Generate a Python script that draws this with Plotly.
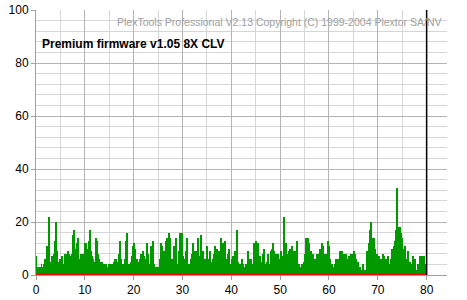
import plotly.graph_objects as go

# C1 error counts, one sample per screen column, 0 .. 80
seg_00_16 = [7,3,3,3,3,4,3,3,4,6, 3,11,6,22,3,5,7,2,8,13, 20,9,4,5,6,6,7,4,4,8,
             6,8,9,8,6,7,8,15,17,8, 10,12,14,6,4,8,4,8,7,12, 12,8,10,13,17,9,7,6,4,5,
             14,13,8,6,5,4,5,4,3,4, 4,3,2,4,3,4,3,4,5,6]
seg_16_33 = [6,4,5,8,13,6,3,4,4,6, 13,16,4,4,3,5,7,11,12,10, 4,6,5,4,6,8,6,9,7,5,
             6,12,8,2,4,11,5,13,4,3, 3,3,3,3,6,12,11,4,9,8, 13,14,8,16,14,5,6,4,11,7,
             14,4,3,9,16,5,16,7,4,6, 9,14,4,4,3,6,8,12,5,9]
seg_33_49 = [9,6,14,3,7,15,5,9,3,6, 4,11,3,6,9,5,3,6,8,11, 4,10,8,9,6,14,5,12,4,13,
             6,2,8,10,4,2,6,7,6,9, 6,17,5,3,4,3,6,4,3,3, 4,3,9,6,5,6,4,4,12,10,
             13,4,12,6,7,4,5,8,10,4, 3,5,8,4,4,9,10,12,9,5]
seg_49_66 = [8,4,8,6,6,9,4,7,22,3, 12,5,8,9,10,4,11,3,9,9, 3,13,3,4,3,3,4,3,5,8,
             14,11,14,12,9,9,5,8,4,6, 4,8,8,3,10,8,12,11,6,8, 8,5,13,11,6,3,4,3,3,4,
             6,3,6,3,9,5,9,8,3,8, 8,5,6,7,5,8,5,8,9,8]
seg_66_80 = [6,2,5,3,3,1,2,4,2,2, 2,9,9,12,17,20,14,11,14,10, 6,8,5,7,3,6,2,8,7,2,
             6,4,7,4,2,6,10,2,11,13, 17,33,18,17,18,16,14,10,8,11, 6,2,9,5,5,2,4,7,2,6,
             2,2,4,2,7,4,7,2,7,4, 4]
c1_values = seg_00_16 + seg_16_33 + seg_33_49 + seg_49_66 + seg_66_80

scan_start = 0
scan_end = 80
c2_x = [scan_start, scan_end]
c2_values = [0, 0]

x_ticks = [0, 10, 20, 30, 40, 50, 60, 70, 80]
y_ticks = [0, 20, 40, 60, 80, 100]

title_text = "Premium firmware v1.05 8X CLV"
copyright_text = "PlexTools Professional V2.13 Copyright (C) 1999-2004 Plextor SA/NV"

n = len(c1_values)
step = (scan_end - scan_start) / n
c1_x = [scan_start + (i + 0.5) * step for i in range(n)]

fig = go.Figure()
fig.add_trace(go.Bar(x=c1_x, y=c1_values, width=step,
                     marker=dict(color="#009a00", line=dict(width=0)),
                     hoverinfo="skip"))
fig.add_trace(go.Scatter(x=c2_x, y=c2_values, mode="lines",
                         line=dict(color="#ff0000", width=3), hoverinfo="skip"))

fig.add_shape(type="line", xref="x", yref="y", x0=scan_end, x1=scan_end, y0=0, y1=100,
              line=dict(color="black", width=1.5))

L, R, T, B = 36, 20, 10, 25
W, H = 467, 300
pw, ph = W - L - R, H - T - B

fig.add_annotation(text="<b>" + title_text + "</b>", xref="paper", yref="paper",
                   x=(40 - L) / pw, y=(T + ph - 44) / ph, xanchor="left", yanchor="middle",
                   showarrow=False, font=dict(family="Liberation Sans", size=12, color="black"))
fig.add_annotation(text=copyright_text, xref="paper", yref="paper",
                   x=(444 - L) / pw, y=(T + ph - 21.5) / ph, xanchor="right", yanchor="middle",
                   showarrow=False, font=dict(family="Liberation Sans", size=10.5, color="#a0a0a0"))

fig.update_layout(
    width=W, height=H,
    margin=dict(l=L, r=R, t=T, b=B, pad=0, autoexpand=False),
    paper_bgcolor="white", plot_bgcolor="white",
    showlegend=False, bargap=0,
    font=dict(family="Liberation Sans", size=12, color="black"),
)
fig.update_xaxes(range=[0, pw / 4.883], tickvals=x_ticks, ticks="outside", ticklen=4,
                 tickcolor="#a0a0a0", showline=True, linecolor="#a0a0a0", linewidth=1,
                 showgrid=True, gridcolor="#b4b4b4", gridwidth=1, zeroline=False,
                 minor=dict(dtick=5, showgrid=True, gridcolor="#d6d6d6", gridwidth=1),
                 tickfont=dict(size=12), fixedrange=True, automargin=False)
fig.update_yaxes(range=[0, 100], tickvals=y_ticks, ticks="outside", ticklen=4,
                 tickcolor="#a0a0a0", showline=True, linecolor="#a0a0a0", linewidth=1,
                 showgrid=True, gridcolor="#b4b4b4", gridwidth=1, zeroline=False,
                 minor=dict(dtick=4, showgrid=True, gridcolor="#d6d6d6", gridwidth=1),
                 tickfont=dict(size=12), fixedrange=True, automargin=False)

fig.write_html("out.html", config={"displayModeBar": False})
